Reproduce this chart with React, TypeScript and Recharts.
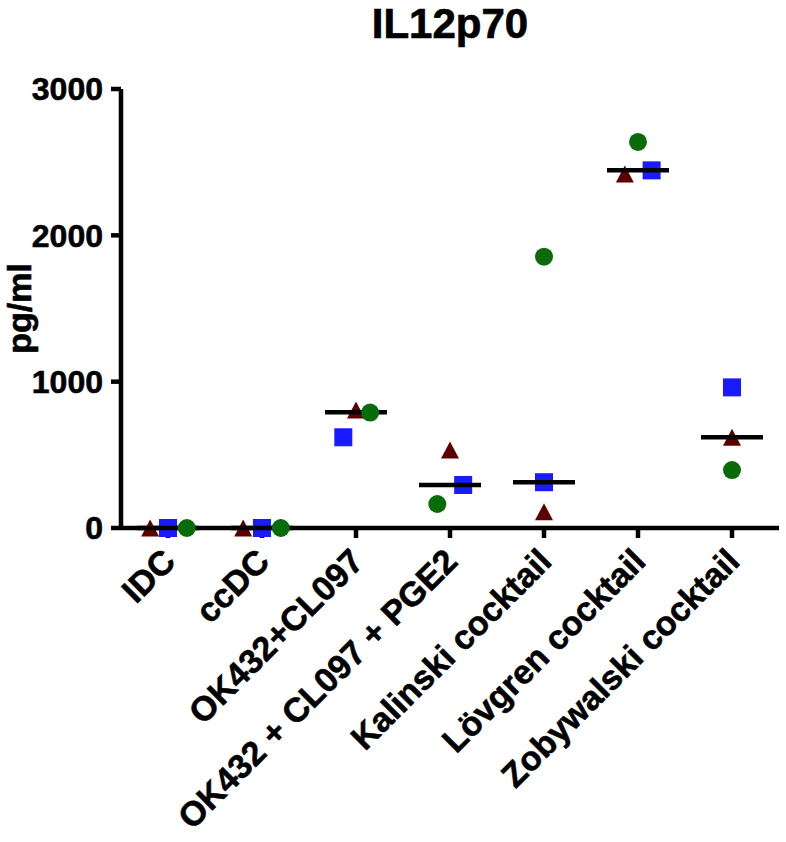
import React from 'react';
import { ScatterChart, Scatter, XAxis, YAxis } from 'recharts';

const categories = [
  'IDC',
  'ccDC',
  'OK432+CL097',
  'OK432 + CL097 + PGE2',
  'Kalinski cocktail',
  'Lövgren cocktail',
  'Zobywalski cocktail',
];
const triangleValues = [0, 0, 806, 533, 111, 2419, 620];
const squareValues = [0, 0, 620, 294, 313, 2444, 961];
const circleValues = [0, 0, 789, 164, 1854, 2638, 396];
const medianValues = [0, 0, 791, 294, 313, 2444, 620];
const yTicks = [0, 1000, 2000, 3000];

// horizontal spread of the dots inside a column (like prism's scatter dot plot)
const triangleJitter = [-0.19, -0.2, 0, 0, 0, -0.14, 0];
const squareJitter = [0, 0, -0.135, 0.14, 0, 0.145, 0];
const circleJitter = [0.2, 0.2, 0.15, -0.135, 0, 0, 0];

const FONT = '"Liberation Sans", Arial, Helvetica, sans-serif';
const TRI_COLOR = '#5e0000';
const SQ_COLOR = '#1a1aff';
const CIRC_COLOR = '#0a6b0a';

const toPoints = (values: number[], jitter: number[]) =>
  values.map((v, i) => ({ x: i + jitter[i], y: v }));

const Triangle = ({ cx, cy }: any) => (
  <polygon
    points={`${cx - 9},${cy + 8.5} ${cx + 9},${cy + 8.5} ${cx},${cy - 8.5}`}
    fill={TRI_COLOR}
  />
);

const Square = ({ cx, cy }: any) => (
  <rect x={cx - 9} y={cy - 9} width={18} height={18} fill={SQ_COLOR} />
);

const Circle = ({ cx, cy }: any) => <circle cx={cx} cy={cy} r={9} fill={CIRC_COLOR} />;

const MedianLine = ({ cx, cy }: any) => (
  <line x1={cx - 31} x2={cx + 31} y1={cy} y2={cy} stroke="#000" strokeWidth={4.5} />
);

const CategoryTick = ({ x, y, payload }: any) => (
  <g transform={`translate(${x + 1},${y + 15})`}>
    <text
      x={0}
      y={0}
      dy="0.35em"
      textAnchor="end"
      transform="rotate(-45)"
      fill="#000"
      stroke="#000"
      strokeWidth={0.6}
      fontSize={34}
      fontWeight="bold"
      fontFamily={FONT}
    >
      {categories[payload.value]}
    </text>
  </g>
);

const YLabel = ({ viewBox }: any) => {
  const cy = viewBox.y + viewBox.height / 2;
  return (
    <text
      x={31}
      y={cy}
      transform={`rotate(-90, 31, ${cy})`}
      textAnchor="middle"
      fill="#000"
      stroke="#000"
      strokeWidth={0.6}
      fontSize={34}
      fontWeight="bold"
      fontFamily={FONT}
    >
      pg/ml
    </text>
  );
};

export default function App() {
  return (
    <div style={{ position: 'absolute', left: 0, top: 0, width: 786, height: 842, background: '#fff' }}>
      <div
        style={{
          position: 'absolute',
          left: 121,
          width: 658,
          top: 3,
          textAlign: 'center',
          fontFamily: FONT,
          fontWeight: 'bold',
          fontSize: 42,
          lineHeight: '42px',
          WebkitTextStroke: '0.7px #000',
        }}
      >
        IL12p70
      </div>
      <ScatterChart width={786} height={842} margin={{ top: 89, right: 7, bottom: 0, left: 0 }}>
        <XAxis
          type="number"
          dataKey="x"
          domain={[-0.5, 6.5]}
          ticks={categories.map((_, i) => i)}
          interval={0}
          height={314}
          tickSize={10}
          axisLine={{ stroke: '#000', strokeWidth: 4.5 }}
          tickLine={{ stroke: '#000', strokeWidth: 4.5 }}
          tick={<CategoryTick />}
        />
        <YAxis
          type="number"
          dataKey="y"
          domain={[0, 3000]}
          ticks={yTicks}
          interval={0}
          width={121}
          tickSize={10}
          tickMargin={8}
          axisLine={{ stroke: '#000', strokeWidth: 4.5 }}
          tickLine={{ stroke: '#000', strokeWidth: 4.5 }}
          tick={{ fill: '#000', stroke: '#000', strokeWidth: 0.6, fontSize: 32, fontWeight: 'bold', fontFamily: FONT }}
          label={<YLabel />}
        />
        <Scatter
          data={toPoints(triangleValues, triangleJitter)}
          shape={<Triangle />}
          isAnimationActive={false}
        />
        <Scatter
          data={toPoints(squareValues, squareJitter)}
          shape={<Square />}
          isAnimationActive={false}
        />
        <Scatter
          data={medianValues.map((v, i) => ({ x: i, y: v }))}
          shape={<MedianLine />}
          isAnimationActive={false}
        />
        <Scatter
          data={toPoints(circleValues, circleJitter)}
          shape={<Circle />}
          isAnimationActive={false}
        />
      </ScatterChart>
    </div>
  );
}
